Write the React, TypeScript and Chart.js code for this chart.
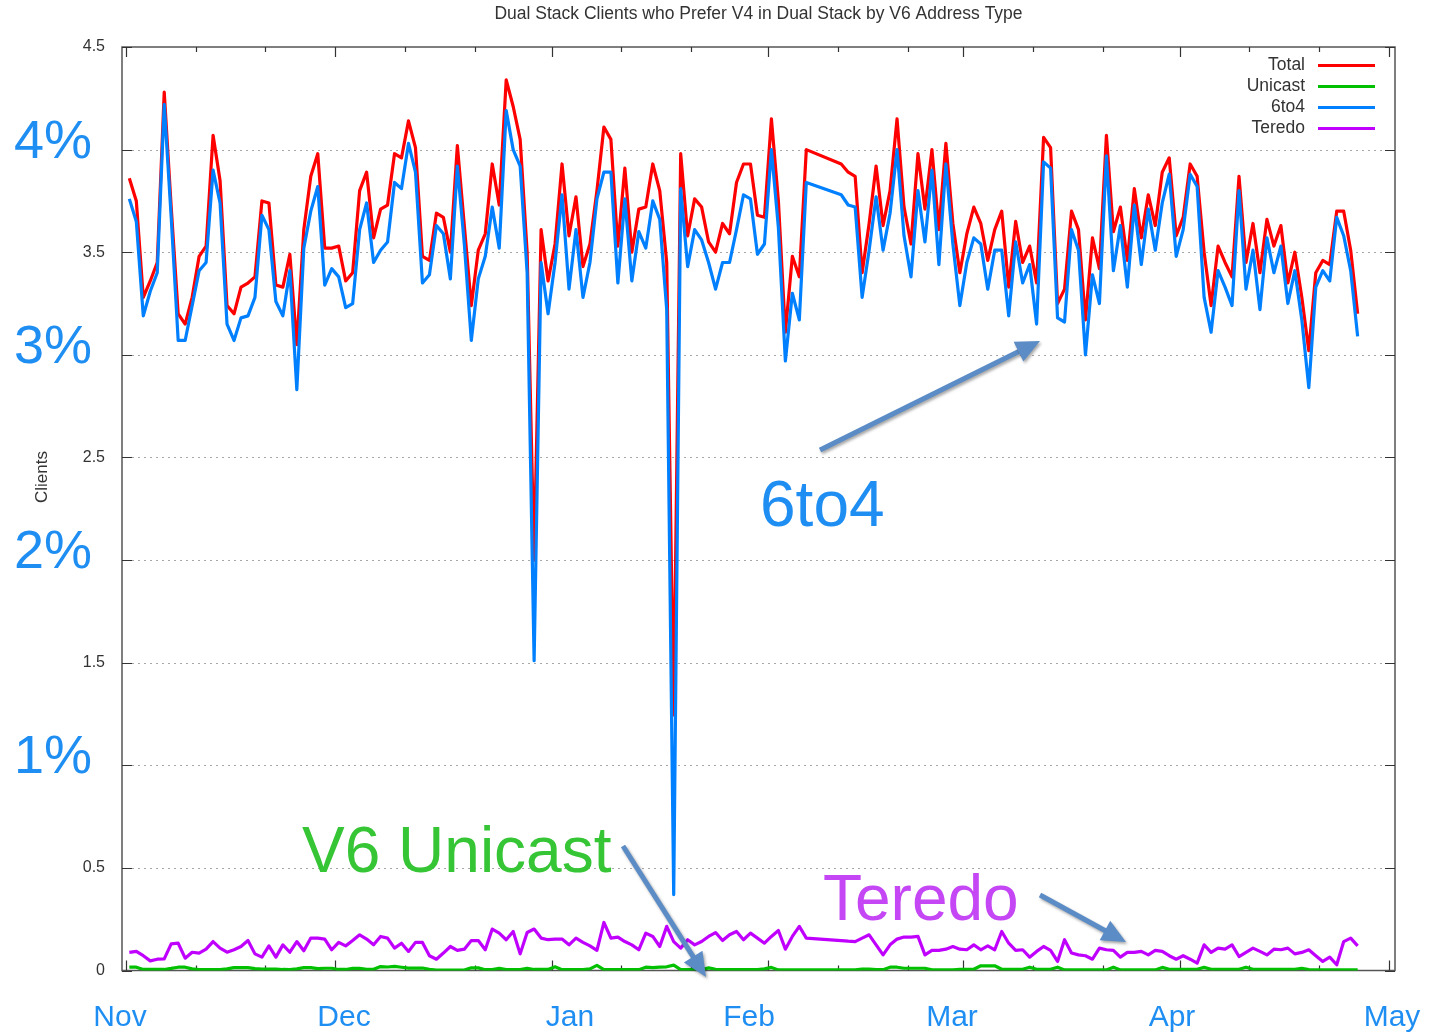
import React, { useEffect, useRef } from "react";
import { Chart, registerables } from "chart.js";

Chart.register(...registerables);

// ---------------- data ----------------
const chartTitle = "Dual Stack Clients who Prefer V4 in Dual Stack by V6 Address Type";
const yAxisTitle = "Clients";
const seriesLabels = ["Total", "Unicast", "6to4", "Teredo"];
const seriesColors = ["#ff0000", "#00c000", "#0080ff", "#c000ff"];

// one value per day, day 0 = Nov 1 ; null = no data that day
const totalValues = [
  3.86, 3.75, 3.28, 3.36, 3.45, 4.28, 3.72, 3.2, 3.15, 3.28,
  3.48, 3.53, 4.07, 3.85, 3.24, 3.2, 3.33, 3.35, 3.38, 3.75,
  3.74, 3.34, 3.33, 3.49, 3.05, 3.61, 3.87, 3.98, 3.52, 3.52,
  3.53, 3.36, 3.4, 3.8, 3.89, 3.57, 3.71, 3.73, 3.98, 3.96,
  4.14, 4.01, 3.48, 3.46, 3.69, 3.67, 3.5, 4.02, 3.63, 3.24,
  3.51, 3.59, 3.93, 3.73, 4.34, 4.21, 4.05, 3.5, 2.0, 3.61,
  3.36, 3.54, 3.93, 3.58, 3.77, 3.43, 3.54, 3.8, 4.11, 4.05,
  3.53, 3.91, 3.5, 3.71, 3.72, 3.93, 3.8, 3.45, 1.245, 3.98,
  3.58, 3.76, 3.72, 3.55, 3.5, 3.64, 3.59, 3.84, 3.93, 3.93,
  3.68, 3.67, 4.15, 3.75, 3.11, 3.48, 3.38, 4.0, null, null,
  null, null, 3.93, 3.89, 3.87, 3.4, 3.64, 3.92, 3.63, 3.8,
  4.15, 3.72, 3.54, 3.98, 3.71, 4.0, 3.61, 4.03, 3.64, 3.4,
  3.59, 3.72, 3.64, 3.46, 3.61, 3.7, 3.33, 3.65, 3.45, 3.53,
  3.35, 4.06, 4.01, 3.25, 3.32, 3.7, 3.61, 3.17, 3.57, 3.42,
  4.07, 3.6, 3.72, 3.46, 3.81, 3.57, 3.78, 3.63, 3.89, 3.96,
  3.58, 3.67, 3.93, 3.87, 3.5, 3.24, 3.53, 3.45, 3.38, 3.87,
  3.45, 3.64, 3.4, 3.66, 3.53, 3.63, 3.35, 3.5, 3.28, 3.02,
  3.4, 3.46, 3.44, 3.7, 3.7, 3.51, 3.2,
];

const unicastValues = [
  0.016, 0.016, 0.005, 0.005, 0.005, 0.005, 0.01, 0.016, 0.016, 0.008,
  0.004, 0.004, 0.004, 0.004, 0.008, 0.014, 0.014, 0.014, 0.009, 0.007,
  0.007, 0.007, 0.005, 0.004, 0.008, 0.014, 0.014, 0.009, 0.011, 0.011,
  0.005, 0.005, 0.01, 0.01, 0.006, 0.006, 0.019, 0.017, 0.02, 0.016,
  0.012, 0.012, 0.012, 0.006, 0.002, 0.002, 0.002, 0.002, 0.002, 0.013,
  0.013, 0.004, 0.004, 0.01, 0.004, 0.004, 0.004, 0.01, 0.005, 0.005,
  0.005, 0.018, 0.004, 0.004, 0.004, 0.004, 0.008, 0.025, 0.004, 0.004,
  0.004, 0.004, 0.004, 0.004, 0.016, 0.014, 0.016, 0.018, 0.026, 0.004,
  0.004, 0.004, 0.004, 0.013, 0.006, 0.004, 0.004, 0.004, 0.004, 0.004,
  0.004, 0.008, 0.015, 0.003, 0.003, 0.003, 0.003, 0.003, null, null,
  null, null, 0.003, 0.003, 0.003, 0.007, 0.007, 0.004, 0.004, 0.016,
  0.016, 0.011, 0.011, 0.011, 0.011, 0.003, 0.003, 0.003, 0.003, 0.006,
  0.006, 0.006, 0.023, 0.023, 0.023, 0.006, 0.006, 0.006, 0.006, 0.016,
  0.006, 0.006, 0.006, 0.016, 0.003, 0.003, 0.003, 0.003, 0.003, 0.003,
  0.003, 0.016, 0.003, 0.003, 0.003, 0.003, 0.003, 0.003, 0.015, 0.006,
  0.006, 0.006, 0.006, 0.006, 0.015, 0.006, 0.006, 0.006, 0.006, 0.006,
  0.016, 0.006, 0.006, 0.006, 0.006, 0.006, 0.006, 0.006, 0.011, 0.005,
  0.003, 0.003, 0.003, 0.003, 0.003, 0.003, 0.003,
];

const sixToFourValues = [
  3.76, 3.65, 3.19, 3.31, 3.4, 4.22, 3.67, 3.07, 3.07, 3.24,
  3.41, 3.45, 3.9, 3.74, 3.15, 3.07, 3.18, 3.19, 3.28, 3.68,
  3.61, 3.26, 3.19, 3.41, 2.83, 3.52, 3.7, 3.82, 3.34, 3.42,
  3.38, 3.23, 3.25, 3.61, 3.74, 3.45, 3.51, 3.55, 3.84, 3.81,
  4.03, 3.89, 3.35, 3.39, 3.63, 3.59, 3.37, 3.92, 3.54, 3.07,
  3.37, 3.48, 3.72, 3.52, 4.19, 4.0, 3.92, 3.4, 1.51, 3.45,
  3.2, 3.45, 3.78, 3.32, 3.61, 3.28, 3.45, 3.76, 3.89, 3.89,
  3.35, 3.76, 3.36, 3.6, 3.52, 3.75, 3.66, 3.22, 0.37, 3.81,
  3.43, 3.61, 3.56, 3.45, 3.32, 3.45, 3.45, 3.61, 3.78, 3.76,
  3.49, 3.54, 4.0, 3.62, 2.97, 3.3, 3.17, 3.84, null, null,
  null, null, 3.78, 3.73, 3.72, 3.28, 3.51, 3.77, 3.51, 3.69,
  4.0, 3.58, 3.38, 3.8, 3.55, 3.9, 3.44, 3.93, 3.54, 3.24,
  3.45, 3.57, 3.54, 3.32, 3.51, 3.51, 3.19, 3.55, 3.35, 3.44,
  3.15, 3.94, 3.91, 3.18, 3.16, 3.61, 3.51, 3.0, 3.39, 3.25,
  3.97, 3.41, 3.63, 3.33, 3.73, 3.44, 3.71, 3.51, 3.74, 3.88,
  3.48, 3.61, 3.88, 3.82, 3.28, 3.11, 3.41, 3.33, 3.24, 3.8,
  3.32, 3.51, 3.22, 3.57, 3.4, 3.53, 3.25, 3.41, 3.17, 2.84,
  3.33, 3.41, 3.36, 3.67, 3.58, 3.41, 3.09,
];

const teredoValues = [
  0.088, 0.093, 0.072, 0.047, 0.055, 0.057, 0.13, 0.133, 0.06, 0.089,
  0.085, 0.104, 0.141, 0.109, 0.089, 0.101, 0.117, 0.146, 0.081, 0.065,
  0.12, 0.065, 0.125, 0.089, 0.141, 0.096, 0.158, 0.158, 0.153, 0.101,
  0.137, 0.12, 0.146, 0.174, 0.153, 0.125, 0.166, 0.158, 0.109, 0.133,
  0.093, 0.137, 0.137, 0.072, 0.055, 0.085, 0.117, 0.098, 0.104, 0.146,
  0.146, 0.101, 0.202, 0.182, 0.15, 0.19, 0.081, 0.185, 0.202, 0.158,
  0.15, 0.153, 0.153, 0.125, 0.158, 0.137, 0.12, 0.098, 0.234, 0.158,
  0.163, 0.141, 0.125, 0.101, 0.182, 0.166, 0.117, 0.215, 0.141, 0.109,
  0.15, 0.125, 0.141, 0.166, 0.185, 0.146, 0.174, 0.19, 0.15, 0.182,
  0.158, 0.133, 0.166, 0.195, 0.104, 0.166, 0.215, 0.158, null, null,
  null, null, 0.146, 0.143, 0.141, 0.158, 0.174, 0.125, 0.076, 0.125,
  0.153, 0.163, 0.163, 0.166, 0.076, 0.098, 0.098, 0.104, 0.117, 0.104,
  0.101, 0.125, 0.101, 0.12, 0.101, 0.19, 0.133, 0.098, 0.101, 0.065,
  0.093, 0.117, 0.098, 0.044, 0.15, 0.085, 0.076, 0.072, 0.055, 0.109,
  0.101, 0.098, 0.065, 0.088, 0.088, 0.093, 0.076, 0.098, 0.093, 0.072,
  0.055, 0.072, 0.055, 0.036, 0.125, 0.088, 0.109, 0.104, 0.125, 0.068,
  0.088, 0.109, 0.093, 0.076, 0.104, 0.101, 0.109, 0.081, 0.088, 0.101,
  0.072, 0.044, 0.065, 0.028, 0.141, 0.158, 0.12,
];

// axis ticks (days from Nov 1)
const monthNames = ["Nov", "Dec", "Jan", "Feb", "Mar", "Apr", "May"];
const monthStartDays = [0, 30, 61, 92, 120, 151, 181];
const minorTickDays = [10, 20, 40, 50, 71, 81, 102, 112, 130, 140, 161, 171];
const yTickValues = [0, 0.5, 1, 1.5, 2, 2.5, 3, 3.5, 4, 4.5];
const percentValues = [4, 3, 2, 1];

// ---------------- layout / annotation styling ----------------
const W = 1432;
const H = 1032;
const axisFont = "'Liberation Sans', Arial, sans-serif";
const slideFont = "'Liberation Sans', Arial, sans-serif";
const slideBlue = "#1f8ef2";
const slideGreen = "#35c535";
const slidePurple = "#c446f4";
const arrowColor = "#5b8cc6";
const monthLabelX = [120, 344, 570, 749, 952, 1172, 1392];
const annotationTexts = [
  { text: "6to4", x: 760, y: 526, color: slideBlue },
  { text: "V6 Unicast", x: 302, y: 872, color: slideGreen },
  { text: "Teredo", x: 823, y: 920, color: slidePurple },
];
const arrows = [
  [820, 450, 1040, 341],
  [623, 846, 706, 977],
  [1040, 895, 1126, 942],
];

const toPoints = (vals: (number | null)[]) =>
  vals.map((v, i) => ({ x: i + 0.5, y: v }));

const drawArrow = (ctx: CanvasRenderingContext2D, x1: number, y1: number, x2: number, y2: number) => {
  const ang = Math.atan2(y2 - y1, x2 - x1);
  const headLen = 24;
  const headW = 11;
  const cs = Math.cos(ang);
  const sn = Math.sin(ang);
  const bx = x2 - headLen * cs;
  const by = y2 - headLen * sn;
  ctx.save();
  ctx.shadowColor = "rgba(0,0,0,0.35)";
  ctx.shadowBlur = 3;
  ctx.shadowOffsetX = 1.5;
  ctx.shadowOffsetY = 2;
  ctx.strokeStyle = arrowColor;
  ctx.fillStyle = arrowColor;
  ctx.lineWidth = 5;
  ctx.lineCap = "butt";
  ctx.beginPath();
  ctx.moveTo(x1, y1);
  ctx.lineTo(bx + 2 * cs, by + 2 * sn);
  ctx.stroke();
  ctx.beginPath();
  ctx.moveTo(x2, y2);
  ctx.lineTo(bx - sn * headW, by + cs * headW);
  ctx.lineTo(bx + sn * headW, by - cs * headW);
  ctx.closePath();
  ctx.fill();
  ctx.restore();
};

const framePlugin = {
  id: "gnuplotFrame",
  beforeDatasetsDraw(chart: any) {
    const { ctx, chartArea } = chart;
    const { left, right, top, bottom } = chartArea;
    const xs = chart.scales.x;
    const ys = chart.scales.y;
    ctx.save();
    // dotted grid
    ctx.strokeStyle = "#a8a8a8";
    ctx.lineWidth = 1;
    ctx.setLineDash([2, 4]);
    yTickValues.forEach((v) => {
      if (v === 0 || v === 4.5) return;
      const y = Math.round(ys.getPixelForValue(v)) + 0.5;
      ctx.beginPath();
      ctx.moveTo(left + 10, y);
      ctx.lineTo(right - 10, y);
      ctx.stroke();
    });
    ctx.setLineDash([]);
    // border
    ctx.strokeStyle = "#555";
    ctx.lineWidth = 1.5;
    ctx.strokeRect(left, top, right - left, bottom - top);
    // y ticks (both sides, inward)
    ctx.strokeStyle = "#333";
    ctx.lineWidth = 1.2;
    yTickValues.forEach((v) => {
      const y = Math.round(ys.getPixelForValue(v)) + 0.5;
      ctx.beginPath();
      ctx.moveTo(left, y);
      ctx.lineTo(left + 10, y);
      ctx.moveTo(right, y);
      ctx.lineTo(right - 10, y);
      ctx.stroke();
    });
    // x ticks (top and bottom, inward)
    const xt = (d: number, len: number) => {
      const x = Math.round(xs.getPixelForValue(d)) + 0.5;
      ctx.beginPath();
      ctx.moveTo(x, top);
      ctx.lineTo(x, top + len);
      ctx.moveTo(x, bottom);
      ctx.lineTo(x, bottom - len);
      ctx.stroke();
    };
    monthStartDays.forEach((d) => xt(d, 10));
    minorTickDays.forEach((d) => xt(d, 5));
    ctx.restore();
  },
  afterDraw(chart: any) {
    const { ctx, chartArea } = chart;
    const { left, right } = chartArea;
    const ys = chart.scales.y;
    ctx.save();
    // title
    ctx.fillStyle = "#333";
    ctx.font = `17.5px ${axisFont}`;
    ctx.textAlign = "center";
    ctx.textBaseline = "middle";
    ctx.fillText(chartTitle, (left + right) / 2, 14);
    // legend (gnuplot style: text right-aligned, line sample to the right)
    ctx.textAlign = "right";
    ctx.font = `17.5px ${axisFont}`;
    chart.data.datasets.forEach((ds: any, i: number) => {
      const y = 65 + i * 21;
      ctx.fillStyle = "#333";
      ctx.fillText(ds.label, 1305, y);
      ctx.strokeStyle = ds.borderColor;
      ctx.lineWidth = 3;
      ctx.beginPath();
      ctx.moveTo(1318, y + 0.5);
      ctx.lineTo(1375, y + 0.5);
      ctx.stroke();
    });
    // y axis title
    ctx.save();
    ctx.translate(42, 477);
    ctx.rotate(-Math.PI / 2);
    ctx.textAlign = "center";
    ctx.textBaseline = "middle";
    ctx.fillStyle = "#333";
    ctx.font = `17px ${axisFont}`;
    ctx.fillText(yAxisTitle, 0, 0);
    ctx.restore();
    // slide annotations: percentages
    ctx.fillStyle = slideBlue;
    ctx.font = `54px ${slideFont}`;
    ctx.textAlign = "left";
    ctx.textBaseline = "alphabetic";
    percentValues.forEach((v) => {
      ctx.fillText(`${v}%`, 14, ys.getPixelForValue(v) + 8);
    });
    // month labels
    ctx.font = `30px ${slideFont}`;
    ctx.textAlign = "center";
    monthNames.forEach((m, i) => {
      ctx.fillText(m, monthLabelX[i], 1026);
    });
    // series annotations
    ctx.font = `64px ${slideFont}`;
    ctx.textAlign = "left";
    annotationTexts.forEach((a) => {
      ctx.fillStyle = a.color;
      ctx.fillText(a.text, a.x, a.y);
    });
    arrows.forEach((a) => drawArrow(ctx, a[0], a[1], a[2], a[3]));
    ctx.restore();
  },
};

export default function App() {
  const canvasRef = useRef<HTMLCanvasElement | null>(null);

  useEffect(() => {
    if (!canvasRef.current) return;
    const seriesValues = [totalValues, unicastValues, sixToFourValues, teredoValues];
    const drawOrder = [3, 2, 1, 0];
    const chart = new Chart(canvasRef.current, {
      type: "line",
      data: {
        datasets: seriesLabels.map((label, i) => ({
          label,
          data: toPoints(seriesValues[i]),
          borderColor: seriesColors[i],
          backgroundColor: seriesColors[i],
          borderWidth: 3.2,
          pointRadius: 0,
          tension: 0,
          spanGaps: true,
          fill: false,
          order: drawOrder[i],
          borderJoinStyle: "round" as const,
        })),
      },
      options: {
        responsive: false,
        animation: false,
        devicePixelRatio: 1,
        layout: { padding: { top: 47, right: 37, left: 0, bottom: 0 } },
        plugins: {
          legend: { display: false },
          title: { display: false },
          tooltip: { enabled: false },
        },
        scales: {
          x: {
            type: "linear",
            min: -0.55,
            max: 181.85,
            ticks: { display: false },
            grid: { display: false },
            border: { display: false },
            afterFit: (s: any) => {
              s.height = 61.5;
            },
          },
          y: {
            type: "linear",
            min: 0,
            max: 4.5,
            afterBuildTicks: (s: any) => {
              s.ticks = yTickValues.map((v) => ({ value: v }));
            },
            ticks: {
              padding: 17,
              color: "#333",
              font: { family: axisFont, size: 16 },
              callback: (v: any) => (percentValues.includes(Number(v)) ? "" : String(v)),
            },
            grid: { display: false, drawTicks: false },
            border: { display: false },
            afterFit: (s: any) => {
              s.width = 122;
            },
          },
        },
      },
      plugins: [framePlugin],
    });
    return () => chart.destroy();
  }, []);

  return (
    <div style={{ position: "absolute", left: 0, top: 0, width: W, height: H, background: "#fff" }}>
      <canvas ref={canvasRef} width={W} height={H} style={{ display: "block" }} />
    </div>
  );
}
